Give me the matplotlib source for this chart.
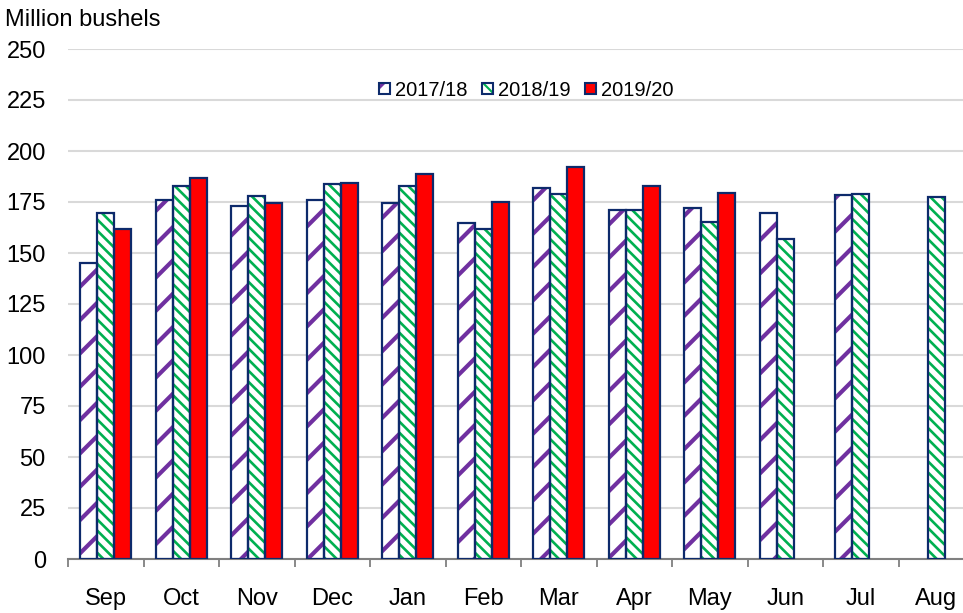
import matplotlib
matplotlib.use("Agg")
import matplotlib.pyplot as plt
import numpy as np
from matplotlib.patches import Patch, Rectangle
from matplotlib.legend_handler import HandlerBase

plt.rcParams['font.family'] = ['Liberation Sans', 'DejaVu Sans']

months = ["Sep", "Oct", "Nov", "Dec", "Jan", "Feb", "Mar", "Apr", "May", "Jun", "Jul", "Aug"]
series_names = ["2017/18", "2018/19", "2019/20"]
v2017 = [145, 176, 173, 176, 174.5, 164.5, 182, 171, 172, 169.5, 178.5, np.nan]
v2018 = [169.5, 183, 178, 184, 183, 162, 179, 171, 165, 157, 179, 177.5]
v2019 = [162, 187, 174.5, 184.5, 188.5, 175, 192, 183, 179.5, np.nan, np.nan, np.nan]
yticks = [0, 25, 50, 75, 100, 125, 150, 175, 200, 225, 250]

W, H = 963, 613
fig = plt.figure(figsize=(W / 100, H / 100), dpi=100)
left, right_px = 68, 68 + 12 * 75.5
ax = fig.add_axes([left / W, 1 - 559 / H, (right_px - left) / W, (559 - 49) / H])

edge = "#0D2A6B"
purple = "#7030A0"
green = "#00B050"
red = "#FF0000"
x = np.arange(len(months)) + 0.5
bw = 0.225

styles = [
    dict(fill="white", hatch="/", hcolor=purple, hlw=3.0),
    dict(fill="white", hatch="\\\\\\", hcolor=green, hlw=1.9),
    dict(fill=red, hatch=None, hcolor=red, hlw=1.0),
]
data = [v2017, v2018, v2019]


def set_hlw(p, lw):
    try:
        p.set_hatch_linewidth(lw)
    except Exception:
        pass


for i, (vals, st) in enumerate(zip(data, styles)):
    xs = x + (i - 1) * bw
    plt.rcParams['hatch.linewidth'] = st["hlw"]
    bars = ax.bar(xs, vals, width=bw, color=st["fill"], edgecolor=st["hcolor"],
                  hatch=st["hatch"], linewidth=0, zorder=2)
    for b in bars:
        set_hlw(b, st["hlw"])
    ax.bar(xs, vals, width=bw, fill=False, edgecolor=edge, linewidth=1.6, zorder=3)

ax.set_xlim(0, 12)
ax.set_ylim(0, 250)
ax.set_yticks(yticks)
ax.set_yticklabels([str(t) for t in yticks], fontsize=17)
ax.tick_params(axis='y', length=0, pad=16)
ax.yaxis.grid(True, color="#D9D9D9", linewidth=1.5, zorder=0)
ax.set_axisbelow(True)

ax.set_xticks(np.arange(0, 13))
ax.set_xticklabels([])
ax.set_xticks(x, minor=True)
ax.set_xticklabels(months, minor=True, fontsize=17)
ax.tick_params(axis='x', which='major', length=6, width=1.3, color="#808080", direction='out')
ax.tick_params(axis='x', which='minor', length=0, pad=21)

for s in ["top", "right", "left"]:
    ax.spines[s].set_visible(False)
ax.spines["bottom"].set_color("#808080")
ax.spines["bottom"].set_linewidth(1.5)

fig.text(5 / W, 1 - 20 / H, "Million bushels", fontsize=17, va="center", ha="left")


class LegendKey:
    def __init__(self, st):
        self.st = st


class KeyHandler(HandlerBase):
    def create_artists(self, legend, orig_handle, xdescent, ydescent, width, height, fontsize, trans):
        st = orig_handle.st
        s = 11.0 * legend.figure.dpi / 100 * 72 / legend.figure.dpi  # ~11 px in points
        s = min(s, width)
        x0 = -xdescent + (width - s) / 2
        y0 = -ydescent + (height - s) / 2
        arts = []
        inner = Rectangle((x0, y0), s, s, facecolor=st["fill"],
                          edgecolor=st["hcolor"], hatch=st["hatch"], linewidth=0,
                          transform=trans)
        set_hlw(inner, st["hlw"] * 0.8)
        arts.append(inner)
        arts.append(Rectangle((x0, y0), s, s, facecolor="none", edgecolor=edge,
                              linewidth=1.5, transform=trans))
        return arts


keys = [LegendKey(st) for st in styles]
leg = fig.legend(handles=keys, labels=series_names, loc="center",
                 bbox_to_anchor=(525 / W, 1 - 90 / H), ncol=3,
                 frameon=False, fontsize=14.5, handlelength=0.8, handleheight=0.7,
                 handletextpad=0.1, columnspacing=0.6, borderpad=0,
                 handler_map={LegendKey: KeyHandler()})

fig.savefig("out.png", dpi=100)
